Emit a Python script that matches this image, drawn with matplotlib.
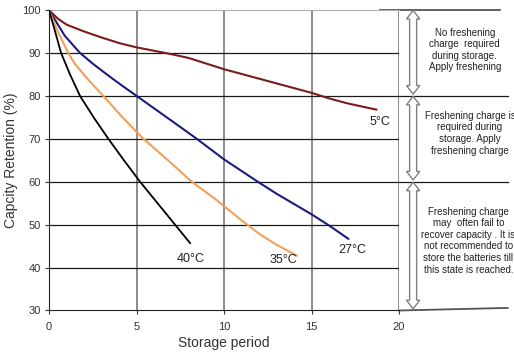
import matplotlib.pyplot as plt
from matplotlib.patches import Polygon

plt.rcParams['font.family'] = ['Liberation Sans', 'DejaVu Sans']

# storage period vs capacity retention (%)
x_5c = [0, 0.5, 1, 2, 3, 4, 5, 6, 7, 8, 9, 10, 11, 12, 13, 14, 15, 16, 17, 18, 18.7]
y_5c = [100, 98.0, 96.6, 95.0, 93.6, 92.3, 91.3, 90.5, 89.7, 88.8, 87.5, 86.2, 85.1,
        84.0, 82.9, 81.8, 80.7, 79.4, 78.3, 77.4, 76.8]

x_27c = [0, 0.45, 0.9, 1.77, 2.5, 3.3, 4.1, 5, 6, 7, 8.44, 10, 11, 12, 13, 14, 15, 16, 17.1]
y_27c = [100, 97.0, 94.0, 90.0, 87.5, 85.0, 82.6, 80.0, 77.1, 74.2, 70.0, 65.2, 62.5,
         59.8, 57.2, 54.8, 52.4, 49.8, 46.7]

x_35c = [0, 0.5, 1.1, 1.49, 2.3, 3.1, 4.2, 5.39, 6.8, 8.15, 9.49, 10, 11, 12, 13, 14.15]
y_35c = [100, 95.0, 90.0, 87.4, 83.5, 80.0, 75.0, 70.0, 65.0, 60.0, 56.0, 54.3, 51.0,
         47.9, 45.3, 42.8]

x_40c = [0, 0.35, 0.69, 1.2, 1.77, 2.55, 3.39, 4.28, 5.2, 6.2, 7.2, 8.06]
y_40c = [100, 95, 90, 85, 80, 75, 70, 65, 60, 55, 50, 45.7]

labels = ['5°C', '27°C', '35°C', '40°C']
label_pos = [(18.9, 73.8), (17.3, 44.1), (13.4, 41.8), (8.1, 42.1)]

zone_bounds = [(100, 80), (80, 60), (60, 30)]
zone_text = [
    'No freshening\ncharge  required\nduring storage.\nApply freshening',
    'Freshening charge is\nrequired during\nstorage. Apply\nfreshening charge',
    'Freshening charge\nmay  often fail to\nrecover capacity . It is\nnot recommended to\nstore the batteries till\nthis state is reached.',
]
zone_text_x = [23.75, 24.05, 23.95]
zone_text_y = [90.7, 71.3, 46.3]


def double_arrow(ax, xc, y0, y1, hw=0.2, hh=0.38, hl=2.0):
    # hollow double-headed arrow from y0 (top) to y1 (bottom)
    pts = [(xc, y0), (xc + hh, y0 - hl), (xc + hw, y0 - hl), (xc + hw, y1 + hl),
           (xc + hh, y1 + hl), (xc, y1), (xc - hh, y1 + hl), (xc - hw, y1 + hl),
           (xc - hw, y0 - hl), (xc - hh, y0 - hl)]
    ax.add_patch(Polygon(pts, closed=True, fc='white', ec='#808080', lw=1.0,
                         clip_on=False, zorder=5))


fig = plt.figure(figsize=(5.14, 3.52), dpi=100)
ax = fig.add_axes([0.0953, 0.1179, 0.6812, 0.8537])

ax.set_xlim(0, 20)
ax.set_ylim(30, 100)
ax.set_xticks([0, 5, 10, 15, 20])
ax.set_yticks(range(30, 101, 10))

for v in [5, 10, 15, 20]:
    ax.axvline(v, color='#6e6e6e', lw=1.1, zorder=1)
for v in [40, 50, 70, 90]:
    ax.axhline(v, color='#1a1a1a', lw=0.9, zorder=1)
# lines that continue into the right-hand notes
for v in [80, 60]:
    ax.plot([0, 26.2], [v, v], color='#1a1a1a', lw=0.9, clip_on=False, zorder=1)
ax.plot([18.9, 25.75], [100, 100], color='#555555', lw=1.3, clip_on=False)
ax.plot([20, 26.2], [30, 30.6], color='#555555', lw=1.3, clip_on=False)

ax.plot(x_5c, y_5c, color='#7b1c1c', lw=1.5, zorder=3)
ax.plot(x_27c, y_27c, color='#1c1c7e', lw=1.5, zorder=3)
ax.plot(x_35c, y_35c, color='#f0a05a', lw=1.5, zorder=3)
ax.plot(x_40c, y_40c, color='black', lw=1.3, zorder=3)

for lab, (lx, ly) in zip(labels, label_pos):
    ax.text(lx, ly, lab, ha='center', va='center', fontsize=9, color='#222222')

for (y0, y1), txt, tx, ty in zip(zone_bounds, zone_text, zone_text_x, zone_text_y):
    double_arrow(ax, 20.8, y0 - 0.1, y1 + 0.4)
    ax.text(tx, ty, txt, ha='center', va='center', fontsize=7,
            linespacing=1.2, color='#222222', clip_on=False)

ax.spines['right'].set_visible(False)
ax.spines['top'].set_color('#b0b0b0')
ax.spines['left'].set_color('#222222')
ax.spines['bottom'].set_color('#222222')
ax.tick_params(labelsize=8, length=3, colors='#333333', pad=3)
ax.tick_params(axis='x', pad=5)

ax.set_xlabel('Storage period', fontsize=10, color='#333333', labelpad=3)
ax.set_ylabel('Capcity Retention (%)', fontsize=10, color='#333333', labelpad=3)

fig.savefig('out.png', dpi=100)
